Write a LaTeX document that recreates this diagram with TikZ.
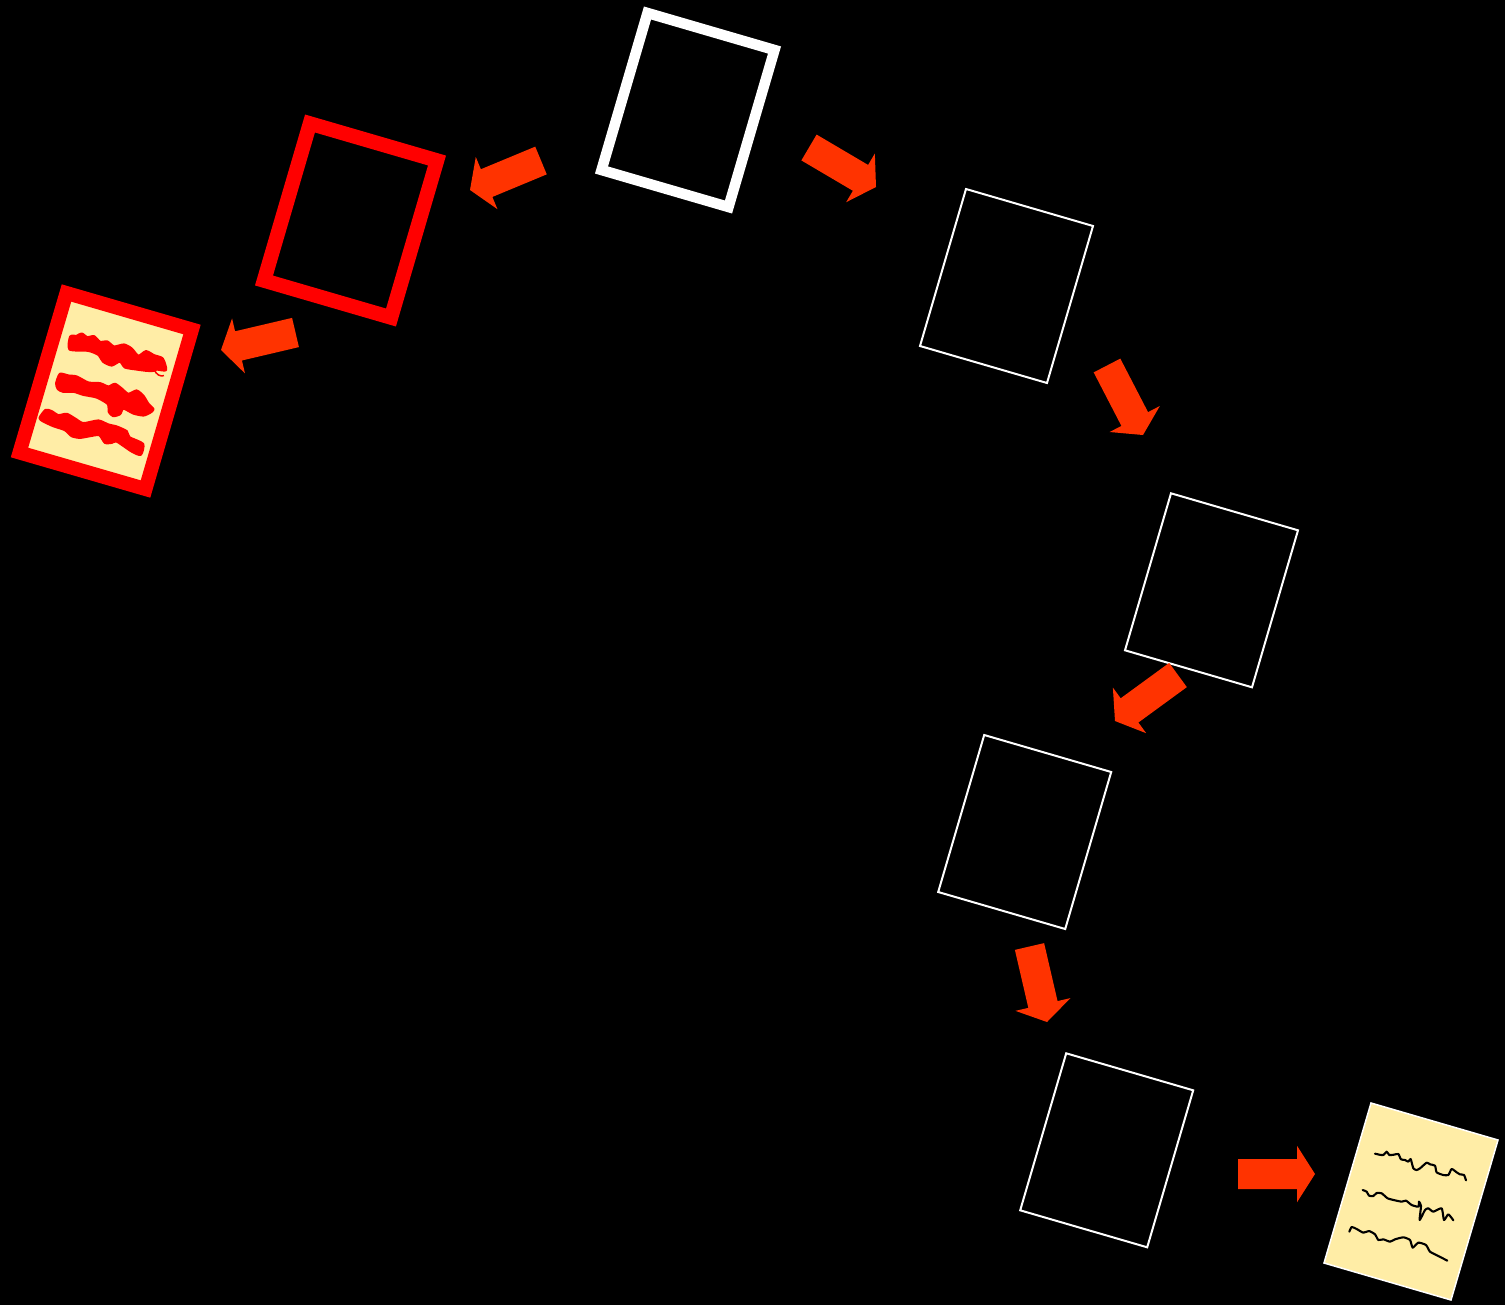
\documentclass[tikz,border=0pt]{standalone}
\usetikzlibrary{calc}
\definecolor{arrowred}{HTML}{FF3300}
\definecolor{paper}{HTML}{FFEDA6}
\tikzset{
  blockfill/.style={fill=arrowred,draw=none},
  thinpage/.style={draw=white,line width=0.04cm,miter limit=10},
  whitepage/.style={draw=white,line width=0.21cm,miter limit=10},
  redpage/.style={draw=red,line width=0.29cm,miter limit=10},
  ink/.style={draw=black,line width=0.042cm,line cap=round,line join=round},
  blob/.style={fill=red,draw=red,line width=0.05cm,line join=round},
}
\newcommand{\pagebox}[3]{%
  \coordinate (#1) at (#2);
  \draw[#3] ($(#1)+(-40.5,-97)$) -- ($(#1)+(86.5,-60)$) -- ($(#1)+(40.5,97)$) -- ($(#1)+(-86.5,60)$) -- cycle;}
\newcommand{\blockarrow}[3]{%
  \coordinate (#1t) at (#2);
  \coordinate (#1h) at (#3);
  \coordinate (#1b) at ($(#1h)!0.36cm!(#1t)$);
  \fill[blockfill] ($(#1t)!0.3cm!90:(#1h)$) -- ($(#1b)!0.3cm!-90:(#1t)$) -- ($(#1b)!0.565cm!-90:(#1t)$) -- (#1h)
     -- ($(#1b)!0.565cm!90:(#1t)$) -- ($(#1b)!0.3cm!90:(#1t)$) -- ($(#1t)!0.3cm!-90:(#1h)$) -- cycle;}
\begin{document}
\begin{tikzpicture}[x=0.02cm,y=-0.02cm]
\fill[black] (0,0) rectangle (1505,1305);
\useasboundingbox (0,0) rectangle (1505,1305);

\pagebox{pw}{688,110}{whitepage}
\pagebox{pr}{350.5,220.5}{redpage}
\pagebox{pa}{1006.5,286}{thinpage}
\pagebox{pb}{1211.5,590.3}{thinpage}
\pagebox{pc}{1024.7,832}{thinpage}
\pagebox{pd}{1106.7,1150.3}{thinpage}

\blockarrow{a}{541,160.5}{470,190}
\blockarrow{b}{809,147.5}{876,187}
\blockarrow{c}{295.5,332.5}{221,350}
\blockarrow{d}{1107,365.5}{1143,435}
\blockarrow{e}{1178,675}{1115,721}
\blockarrow{f}{1029.5,946.5}{1047,1022}
\blockarrow{g}{1238,1174}{1315,1174}

% clean yellow document
\draw[draw=white,line width=0.03cm,fill=paper] (1371,1103) -- (1498,1140) -- (1451,1300) -- (1324,1263) -- cycle;
\begin{scope}[shift={(1320,1095)},x=0.00667cm,y=-0.00667cm]
\draw[ink] plot[smooth,tension=.35] coordinates {(165,176)(178,179)(190,180)(200,170)(208,180)(222,179)(235,177)(243,193)(255,195)(265,200)(272,192)(280,220)(290,225)(300,220)(320,203)(330,208)(345,212)(350,232)(370,240)(385,240)(395,222)(410,232)(420,238)(432,240)(438,256)};
\draw[ink] plot[smooth,tension=.35] coordinates {(128,285)(140,290)(147,302)(160,303)(170,294)(185,295)(203,310)(225,316)(245,320)(258,317)(275,330)(295,335)(297,320)(303,333)(299,375)(315,345)(325,340)(340,350)(365,340)(372,375)(385,358)(400,376)};
\draw[ink] plot[smooth,tension=.35] coordinates {(88,410)(95,396)(110,402)(130,413)(147,408)(165,418)(175,435)(190,433)(210,440)(225,433)(250,427)(270,435)(278,458)(295,443)(318,450)(330,470)(355,483)(382,497)};
\end{scope}

% red document
\draw[draw=red,line width=0.28cm,fill=paper,miter limit=10] (66.5,293) -- (192,329.5) -- (145.5,489) -- (19.5,452.5) -- cycle;
\begin{scope}[shift={(0,280)},x=0.00667cm,y=-0.00667cm]
\fill[blob] plot[smooth cycle,tension=.4] coordinates {(211,170)(230,168)(245,161)(262,172)(282,169)(300,186)(322,185)(342,200)(372,194)(395,206)(415,228)(438,214)(462,226)(488,236)(498,270)(470,268)(462,272)(440,272)(410,268)(375,262)(360,244)(335,256)(310,245)(295,224)(265,212)(209,208)};
\draw[red,line width=0.03cm] (462,268) .. controls (470,285) and (480,290) .. (492,287);
\fill[blob] plot[smooth cycle,tension=.4] coordinates {(180,282)(205,287)(230,290)(265,308)(300,310)(325,320)(345,312)(365,326)(385,342)(410,332)(430,348)(445,372)(460,388)(450,398)(430,406)(400,400)(370,385)(360,402)(340,408)(327,396)(324,372)(290,352)(250,344)(222,335)(190,335)(174,327)(169,310)};
\fill[blob] plot[smooth cycle,tension=.4] coordinates {(119,414)(137,390)(155,394)(175,406)(200,402)(225,416)(250,430)(295,422)(325,434)(350,440)(380,454)(388,472)(429,492)(422,524)(395,514)(350,484)(335,488)(315,488)(298,465)(270,468)(240,473)(215,468)(195,450)(160,438)(130,424)};
\end{scope}
\end{tikzpicture}
\end{document}
